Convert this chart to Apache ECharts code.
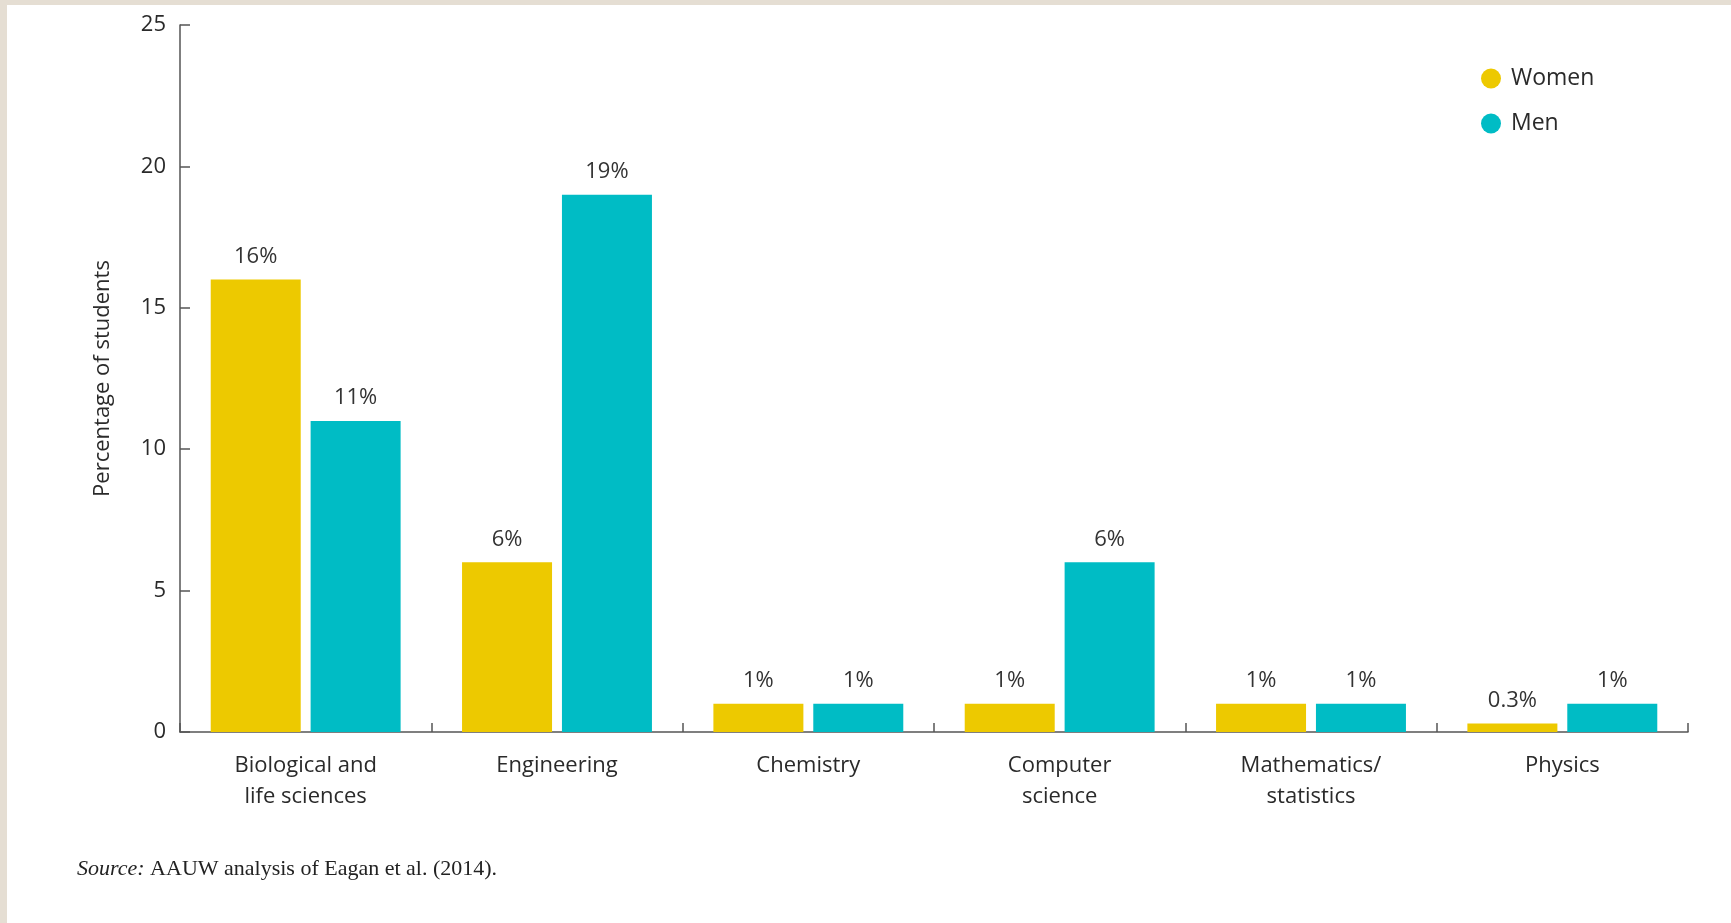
<!DOCTYPE html>
<html>
<head>
<meta charset="utf-8">
<script src="https://cdn.jsdelivr.net/npm/echarts@6/dist/echarts.min.js"></script>
<style>
html,body{margin:0;padding:0;background:#fff;}
#chart{position:absolute;left:0;top:0;width:1731px;height:923px;}
</style>
</head>
<body>
<div id="chart"></div>
<script>
const categories = ['Biological and\nlife sciences', 'Engineering', 'Chemistry', 'Computer\nscience', 'Mathematics/\nstatistics', 'Physics'];
const women = [16, 6, 1, 1, 1, 0.3];
const men = [11, 19, 1, 6, 1, 1];
const yTicks = [0, 5, 10, 15, 20, 25];
const seriesNames = ['Women', 'Men'];
const sourceNote = 'AAUW analysis of Eagan et al. (2014).';

const FONT = '"Open Sans", "Noto Sans", sans-serif';
const TXT = '#2a2a2a';
const AX = '#555';

const chart = echarts.init(document.getElementById('chart'));
const labelCfg = {
  show: true, position: 'top', distance: 12,
  fontFamily: FONT, fontSize: 22, color: '#333',
  formatter: p => p.value + '%'
};
chart.setOption({
  animation: false,
  backgroundColor: '#fff',
  graphic: [
    {type: 'rect', left: 0, top: 0, shape: {width: 1731, height: 5}, style: {fill: '#e5ded3'}, silent: true},
    {type: 'rect', left: 0, top: 0, shape: {width: 7, height: 923}, style: {fill: '#e5ded3'}, silent: true},
    {type: 'text', left: 77, top: 858, silent: true,
      style: {
        text: '{i|Source:} ' + sourceNote,
        fontFamily: '"Liberation Serif", "DejaVu Serif", serif', fontSize: 22, fill: '#222',
        rich: {i: {fontStyle: 'italic', fontFamily: '"Liberation Serif", serif', fontSize: 22, fill: '#222'}}
      }}
  ],
  legend: {
    orient: 'vertical', left: 1476, top: 62,
    icon: 'circle', itemWidth: 20, itemHeight: 20, itemGap: 22,
    textStyle: {fontFamily: FONT, fontSize: 23, color: TXT, padding: [0, 0, 0, 5]},
    data: seriesNames
  },
  grid: {left: 180, right: 43, top: 25, bottom: 191, containLabel: false},
  xAxis: {
    type: 'category', data: categories, boundaryGap: true,
    axisLine: {lineStyle: {color: AX, width: 1.5}},
    axisTick: {show: true, inside: true, length: 9, lineStyle: {color: AX, width: 1.5}},
    axisLabel: {fontFamily: FONT, fontSize: 22, color: TXT, margin: 18, lineHeight: 31, interval: 0}
  },
  yAxis: {
    type: 'value', min: yTicks[0], max: yTicks[yTicks.length - 1], interval: 5,
    name: 'Percentage of students', nameLocation: 'middle', nameGap: 66,
    nameTextStyle: {fontFamily: FONT, fontSize: 22, color: TXT},
    axisLine: {show: true, lineStyle: {color: AX, width: 1.5}},
    axisTick: {show: true, inside: true, length: 10, lineStyle: {color: AX, width: 1.5}},
    axisLabel: {fontFamily: FONT, fontSize: 22, color: TXT, margin: 14},
    splitLine: {show: false}
  },
  series: [
    {name: seriesNames[0], type: 'bar', data: women, barWidth: 90, barGap: '11%',
      itemStyle: {color: '#edc900'}, label: labelCfg},
    {name: seriesNames[1], type: 'bar', data: men, barWidth: 90, barGap: '11%',
      itemStyle: {color: '#00bcc5'}, label: labelCfg}
  ]
});
</script>
</body>
</html>
